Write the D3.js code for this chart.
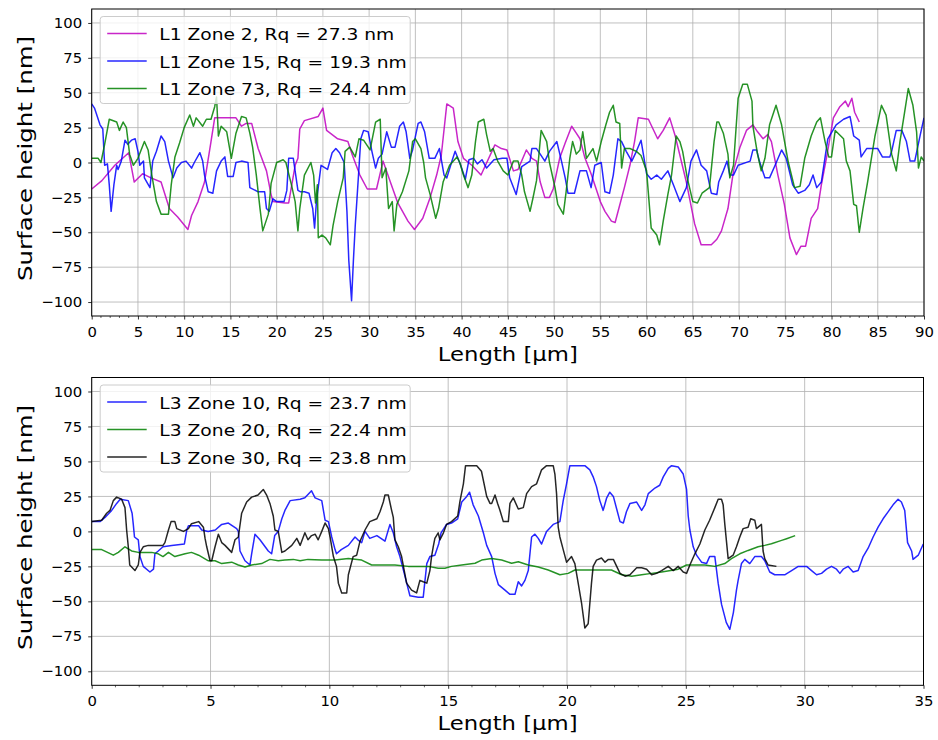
<!DOCTYPE html>
<html><head><meta charset="utf-8">
<script src="https://cdn.jsdelivr.net/npm/d3@7"></script>
<style>body{margin:0;background:#fff}svg{display:block;font-family:"DejaVu Sans",sans-serif}</style>
</head><body><svg id="c" width="938" height="740"></svg>
<script>
// ---------- DATA ----------
const topXTicks = [0,5,10,15,20,25,30,35,40,45,50,55,60,65,70,75,80,85,90];
const botXTicks = [0,5,10,15,20,25,30,35];
const yTicks = [-100,-75,-50,-25,0,25,50,75,100];

const l1z2_x = [0,1.1,2.5,4,4.6,5.5,6.4,7.5,8.4,9.3,10.4,10.8,11.5,12.2,12.9,13.3,15.6,16.2,16.7,17.3,18,18.9,19.4,19.6,20.9,21.3,22,22.3,22.5,23,24.5,25,25.4,26.6,27.7,28.2,29,29.8,30.8,31.5,32.4,33.1,34.2,34.9,35.8,36.6,37.3,37.8,38.4,39.1,39.6,40.2,41.1,42.1,43.6,44.3,44.9,45.6,46.1,47,47.6,48.1,48.5,49,49.5,49.9,50.6,51.2,51.9,52.4,52.8,53.3,54,55,55.5,56.2,56.6,57,57.6,58.2,58.7,59.1,60.2,61.2,61.8,62.5,63.1,64.3,65.2,65.9,67,67.6,68.1,68.8,69.4,70.1,70.8,71.5,72,72.6,73.1,73.5,74.2,74.9,75.5,76.2,76.7,77.2,77.8,78.5,78.9,79.5,80.2,80.9,81.5,81.8,82.2,82.5,83];
const l1z2_y = [-19,-13,-2,7,-14,-8,-11,-14,-33,-39,-48,-38,-28,-14,15,32,32,26,28,28,10,-6,-23,-28,-29,-29,-2,3,24,30,33,39,23,17,15,5,-9,-19,-19,1,-16,-29,-42,-48,-40,-25,-9,5,42,39,15,3,-2,-9,12.6,10,9,-6,-5,9,3,1,-14,-25,-25,-19,3,14,26,21,17,4,-8,-28,-35,-42,-43,-33,-18,-2,15,32,31,17,23,32,19,-14,-44,-59,-59,-55,-49,-33,-6,11,23,27,22,17,20,15,-9,-30,-54,-66,-60,-60,-40,-33,-16,5,32,40,44,40,46,36,29];

const l1z15_x = [0,0.3,0.9,1.2,1.4,1.7,1.9,2.1,2.4,2.7,2.85,3.2,3.6,3.9,4.3,4.7,5,5.2,5.6,5.7,6.3,6.6,7,7.5,7.9,8.3,8.8,9.2,9.7,10.2,10.8,11.1,11.7,12,12.2,12.6,13.1,13.5,14,14.4,14.7,15.3,15.6,16.2,16.9,17.1,18,18.7,18.9,19.2,19.6,20,20.5,20.8,21.1,21.3,21.8,22.3,22.6,23,23.5,23.9,24.1,24.3,24.8,25.5,26,26.4,26.8,27.3,27.6,27.8,28.1,28.3,28.5,28.9,29.1,29.4,29.9,30.3,30.7,31,31.4,31.9,32.4,32.8,33.3,33.7,34,34.4,34.7,35.3,35.6,36,36.5,37.1,37.6,38.1,38.4,39,39.3,39.9,40.4,40.8,41.3,41.7,42.2,42.7,43.5,44.4,44.9,45.2,45.9,46.5,47.4,47.6,48.1,48.5,49,49.5,50.3,50.8,51.2,51.5,52.2,52.8,53.5,54,54.4,55.1,55.5,56,56.4,56.9,57.3,57.8,58.4,58.9,59.4,60,60.5,61.1,61.6,62.3,62.9,63.6,64.3,64.8,65.4,65.9,66.5,67,67.6,67.8,68.3,68.7,69,69.4,69.9,71.2,71.5,71.9,72.2,72.8,73.3,73.9,74.6,75.1,75.8,76.4,77.1,77.6,78,78.4,78.9,79.6,80.5,81.3,82,82.4,83,83.2,83.8,85,85.5,86.3,86.5,87,87.6,88.1,88.5,89,89.6,90];
const l1z15_y = [42,39,27,24,-2,-1,-16,-35,-16,-2,-5,1,16,13,16,17,8,-2,1,-11,-18,1,8,19,15,1,-11,-4,0,1,-4,0,7,1,-9,-21,-22,-6,1,4,-10,-10,0,1,0,-18,-21,-21,-33,-35,-26,-28,-28,-28,-20,3,3,-20,-21,-21,-22,-33,-47,-28,-2,-5,7,10,7,0,-35,-70,-99,-70,-45,-4,17,23,22,8,-4,3,6,22,11,11,26,29,22,3,9,28,29,22,3,3,10,-9,-11,2,8,-2,-12,2,3,-1,2,-4,2,3,3,-11,-23,-3,1,10,10,6,1,8,15,1,-11,-22,-22,-6,-6,-18,-2,0,-21,-22,-9,17,15,8,1,8,16,-8,-12,-9,-12,-6,-16,-28,-18,1,9,-2,-6,-22,-23,-14,-6,1,-9,-9,-2,1,9,9,1,-11,-11,-2,9,3,-16,-22,-20,-16,-9,-18,-14,17,27,31,33,19,16,4,10,10,4,4,8,23,23,15,1,1,20,32];

const l1z73_x = [0,0.7,1,1.4,1.9,2.7,3,3.4,3.75,4.1,4.5,5,5.7,6.1,6.5,7,7.5,8.3,8.6,9,9.5,10,10.6,11,11.3,12,12.4,12.9,13.3,13.5,13.7,14,14.6,15.1,15.6,16.2,16.7,17.1,17.4,17.8,18.2,18.5,19.1,19.4,20,20.7,21,21.6,22,22.3,22.5,23,23.7,24,24.2,24.4,24.5,24.9,25.3,25.8,26.1,26.6,27.2,27.4,27.9,28.5,28.9,29.4,30.1,30.7,31.2,31.4,31.8,32.1,32.5,32.7,33,33.6,34.3,34.7,35,35.6,35.9,36.1,36.6,37.2,37.5,38,38.7,39.5,39.8,40.2,40.7,41.1,41.5,41.8,42.4,42.7,43.1,43.4,43.9,44.5,45,45.6,46.1,46.5,46.8,47.4,47.7,48.1,48.6,49.2,49.5,50.1,50.4,51,51.3,51.7,52,52.4,52.8,53.1,53.5,54.2,54.6,55.1,55.6,56,56.4,56.7,57.1,57.3,57.6,58.2,58.9,59.4,60,60.5,61.1,61.4,61.8,62.3,62.7,63.2,63.6,63.9,64.4,65,65.5,66,66.8,67.3,67.6,67.8,68.3,68.8,69,69.4,69.9,70.4,70.9,71.4,71.5,72,72.4,72.8,73.3,74,74.6,75.3,76,76.6,77.1,77.8,78.4,78.8,79.3,79.7,80,80.4,81.3,81.6,82,82.4,82.7,83,83.4,83.9,84.7,85.4,85.9,86.5,87,87.4,87.9,88.3,88.8,89.2,89.4,89.7,90];
const l1z73_y = [3,3,0,13,31,29,23,29,25,6,-2,3,15,9,-9,-28,-37,-37,-16,4,14,25,34,26,32,26,31,31,40,47,19,26,22,3,21,33,32,21,11,-9,-33,-49,-37,-15,0,2,0,-16,-28,-49,-33,-9,0,-9,-29,-16,-54,-52,-54,-59,-45,-28,-11,8,11,4,17,16,9,29,31,-11,-4,-33,-28,-49,-30,-21,-6,15,17,10,0,-11,-23,-40,-33,-14,-2,4,0,-9,-18,-9,15,29,31,20,8,10,1,-6,-9,1,1,-9,-21,-35,-26,-13,23,15,0,-18,-30,-37,-21,3,15,6,9,22,3,10,1,15,27,36,41,29,28,-4,10,10,8,5,-6,-47,-52,-59,-42,-23,-9,19,15,8,-11,-28,-29,-22,-18,15,29,29,21,6,-11,-2,46,56,56,44,26,6,-6,3,27,41,27,1,-18,-17,3,19,29,32,15,4,4,23,17,1,-6,-30,-31,-50,-33,-14,19,41,34,6,-6,15,36,53,41,22,-4,4,1];

const l3z10_x = [0,0.35,0.56,0.84,1.05,1.2,1.54,1.7,1.75,1.8,1.96,2.03,2.17,2.45,2.6,2.66,2.8,3,3.37,3.9,4,4.07,4.5,4.63,4.9,5.2,5.47,5.75,6.1,6.17,6.24,6.45,6.66,6.73,6.87,7.08,7.43,7.57,7.7,7.85,8,8.13,8.35,8.77,8.97,9.25,9.4,9.68,9.82,9.96,10.1,10.24,10.3,10.5,10.8,11.08,11.2,11.36,11.5,11.7,12,12.34,12.55,12.69,12.83,12.97,13.18,13.39,13.74,13.95,14.1,14.23,14.44,14.6,14.7,14.93,15.14,15.4,15.57,15.78,15.9,16.05,16.27,16.48,16.62,16.83,16.97,17.11,17.39,17.6,17.81,17.95,18.09,18.23,18.37,18.51,18.65,18.79,18.93,19.14,19.42,19.7,19.84,19.98,20.12,20.75,20.96,21.1,21.24,21.38,21.52,21.67,21.8,21.95,22.09,22.23,22.37,22.5,22.65,22.93,23.14,23.28,23.42,23.7,23.9,24.05,24.26,24.4,24.68,24.89,25.03,25.1,25.17,25.31,25.45,25.66,25.87,26,26.22,26.36,26.5,26.7,26.85,27,27.13,27.2,27.34,27.48,27.69,27.9,28.18,28.32,28.53,28.74,29.16,29.45,29.73,30.08,30.29,30.5,30.71,30.92,31.13,31.34,31.48,31.62,31.83,32.04,32.25,32.46,32.67,32.88,33.09,33.3,33.51,33.72,33.93,34.07,34.21,34.33,34.5,34.56,34.78,34.99];
const l3z10_y = [7,7,10,15,20,23,22,13,5,-4,-6,-18,-25,-29,-27,-16,-14,-11,-10,-9,1,4,4,1,0,1,5,6,2,0,-14,-21,-24,-16,-2,-6,-14,-16,-3,0,9,15,22,23,24,29,24,22,8,7,-4,-13,-16,-13,-10,-4,-6,-8,0,-5,-3,-7,5,-1,-11,-18,-32,-46,-47,-47,-23,-18,-17,-9,-1,5,6,9,21,25,28,19,11,-1,-10,-18,-30,-38,-42,-45,-45,-36,-39,-35,-28,-4,-2,-5,-9,0,5,7,22,34,47,47,44,39,32,22,15,24,28,25,16,7,6,14,20,21,15,19,27,31,33,39,45,47,46,41,30,11,1,-11,-17,-22,-23,-18,-18,-37,-52,-65,-70,-58,-42,-35,-23,-20,-23,-18,-18,-21,-29,-31,-31,-28,-25,-25,-28,-31,-30,-27,-25,-27,-30,-27,-25,-29,-28,-18,-12,-4,3,9,14,19,23,21,15,-8,-14,-20,-17,-9];

const l3z20_x = [0,0.42,0.91,1.12,1.4,1.68,1.96,2.52,2.8,3,3.23,3.5,3.93,4.2,4.5,4.91,5.19,5.47,5.89,6.17,6.45,6.73,7.15,7.5,7.85,8.13,8.48,8.77,9.1,9.68,10.24,10.8,11.36,11.78,12.2,12.76,13.32,13.74,14.16,14.58,14.86,15.14,15.57,16.13,16.41,16.83,17.25,17.67,17.95,18.37,18.79,19.21,19.7,20.05,20.33,21.03,21.87,22.3,22.72,23.14,23.56,23.98,24.68,25.03,25.38,25.8,26.22,26.64,26.92,27.27,27.62,28.04,28.32,28.6,29.03,29.24,29.6];
const l3z20_y = [-13,-13,-17,-15,-11,-14,-15,-15,-16,-18,-15,-18,-16,-15,-17,-21,-21,-23,-22,-24,-25.5,-24,-23,-20,-21,-20.5,-20,-21,-20,-20.5,-20.5,-19.3,-20.5,-24,-24,-24,-25,-25,-25,-26.4,-26.4,-25,-24,-22.8,-20.5,-19.3,-20.5,-22.8,-21.7,-24,-25.5,-27.6,-31,-30,-27.6,-27.6,-27.6,-31,-32,-31,-30,-29,-27,-24,-24,-24,-25,-23,-19.5,-16,-13.6,-11,-10,-8.8,-6.4,-5.2,-3];

const l3z30_x = [0,0.42,0.63,0.77,0.91,1.05,1.26,1.4,1.47,1.54,1.6,1.82,1.96,2.03,2.17,2.38,3,3.08,3.23,3.34,3.5,3.58,3.86,4.07,4.2,4.5,4.7,4.77,4.84,4.98,5.05,5.19,5.33,5.47,5.61,5.89,6.03,6.17,6.31,6.52,6.73,7,7.22,7.36,7.5,7.64,7.71,7.85,8,8.13,8.42,8.63,8.77,8.97,9.1,9.25,9.4,9.53,9.68,9.82,9.96,10.03,10.17,10.3,10.38,10.52,10.73,10.8,11,11.15,11.29,11.5,11.7,12,12.13,12.27,12.34,12.48,12.62,12.69,12.76,12.9,13.04,13.25,13.46,13.67,13.81,13.95,14.1,14.23,14.3,14.37,14.44,14.58,14.65,14.8,14.93,15.14,15.4,15.5,15.64,15.73,16.2,16.4,16.62,16.76,16.83,16.97,17.08,17.18,17.32,17.53,17.6,17.74,17.95,18.16,18.3,18.51,18.72,18.93,19.14,19.42,19.49,19.56,19.63,19.7,19.84,19.98,20.19,20.33,20.47,20.61,20.75,20.89,21.03,21.1,21.24,21.45,21.6,21.74,21.95,22.09,22.23,22.44,22.65,22.93,23.14,23.35,23.56,23.77,23.98,24.26,24.47,24.68,24.89,25.03,25.17,25.38,25.59,25.8,26,26.22,26.36,26.5,26.57,26.64,26.78,26.99,27.13,27.27,27.41,27.62,27.73,27.9,27.97,28.18,28.25,28.32,28.46,28.81];
const l3z30_y = [7,8,13,15,22,24.5,23,17,1,-11,-24,-28,-24,-15,-11,-10,-10,-8,1,7,7,2,0,2,5.5,7,3,-5,-11,-21,-21,-11,-2,-8,-10,-15,-6,-4,13,21,24.5,26,30,26,20,11,1,0,-15,-14,-10,-5,-10,-1,-6,-3,-2,-6,0,6,2,-4,-18,-25,-37,-44,-44,-31,-18,-17,-7,1,7,9,14,21,26,26,15,10,-6,-11,-18,-37,-42,-44,-35,-36,-37,-28,-18,-11,-5,-1,-6,-1,5,7,11,22,34,47,47,43,25,20,20,26,20,15,7,7,20,24,16,17,27,32,34,44,47,47,41,27,3,-4,-13,-22,-18,-23,-37,-51,-69,-66,-37,-25,-20.5,-19,-22,-20,-20,-25,-30,-32,-31,-26,-26,-27,-31,-30,-28,-25,-28,-25,-29,-30,-24,-16,-9,1,8,17,23,23,19,5,-19.5,-17,-11,-4,2,3,9,8,2,5,-14,-19.5,-24,-25];

const topSeries = [
  {name:"L1 Zone 2, Rq = 27.3 nm", x:l1z2_x, y:l1z2_y, color:"#bf00bf"},
  {name:"L1 Zone 15, Rq = 19.3 nm", x:l1z15_x, y:l1z15_y, color:"#0000ff"},
  {name:"L1 Zone 73, Rq = 24.4 nm", x:l1z73_x, y:l1z73_y, color:"#008000"}
];
const botSeries = [
  {name:"L3 Zone 10, Rq = 23.7 nm", x:l3z10_x, y:l3z10_y, color:"#0000ff"},
  {name:"L3 Zone 20, Rq = 22.4 nm", x:l3z20_x, y:l3z20_y, color:"#008000"},
  {name:"L3 Zone 30, Rq = 23.8 nm", x:l3z30_x, y:l3z30_y, color:"#000000"}
];

// ---------- DRAW ----------
const svg = d3.select("#c");

// stretch a text horizontally (along its direction) to a measured width
function fit(sel, w){
  sel.each(function(){
    const n = this.getComputedTextLength();
    if (n > 0) d3.select(this).attr("textLength", w).attr("lengthAdjust","spacingAndGlyphs");
  });
}

function panel(cfg){
  const {left,right,top,bottom,xmax,xTicks,series} = cfg;
  const x = d3.scaleLinear().domain([0,xmax]).range([left,right]);
  const y = d3.scaleLinear().domain([-110,110]).range([bottom,top]);
  const g = svg.append("g");
  g.append("g").selectAll("line").data(xTicks).join("line")
    .attr("x1",d=>x(d)).attr("x2",d=>x(d)).attr("y1",top).attr("y2",bottom)
    .attr("stroke","#b0b0b0").attr("stroke-width",0.8);
  g.append("g").selectAll("line").data(yTicks).join("line")
    .attr("x1",left).attr("x2",right).attr("y1",d=>y(d)).attr("y2",d=>y(d))
    .attr("stroke","#b0b0b0").attr("stroke-width",0.8);
  const cid = "clip"+Math.round(top);
  svg.append("defs").append("clipPath").attr("id",cid).append("rect")
    .attr("x",left).attr("y",top).attr("width",right-left).attr("height",bottom-top);
  const line = d3.line().x(d=>x(d[0])).y(d=>y(d[1]));
  const lg = g.append("g").attr("clip-path",`url(#${cid})`);
  series.forEach(s=>{
    lg.append("path").datum(s.x.map((v,i)=>[v,s.y[i]]))
      .attr("d",line).attr("fill","none").attr("stroke",s.color)
      .attr("stroke-width",1.5).attr("stroke-opacity",0.85).attr("stroke-linejoin","round");
  });
  const minor = d3.range(0,xmax+0.001,1).filter(v=>v%5!==0);
  g.append("g").selectAll("line").data(minor).join("line")
    .attr("x1",d=>x(d)).attr("x2",d=>x(d)).attr("y1",bottom).attr("y2",bottom+2)
    .attr("stroke","#000").attr("stroke-width",0.6);
  const xa = g.append("g").attr("transform",`translate(0,${bottom})`)
    .call(d3.axisBottom(x).tickValues(xTicks).tickSize(3.5).tickPadding(7).tickFormat(d3.format("d")));
  const ya = g.append("g").attr("transform",`translate(${left},0)`)
    .call(d3.axisLeft(y).tickValues(yTicks).tickSize(3.5).tickPadding(6).tickFormat(d=>d<0?"\u2212"+Math.abs(d):d));
  [xa,ya].forEach(a=>{
    a.select(".domain").remove();
    a.selectAll("text").attr("font-size",14.5).attr("font-family","DejaVu Sans").attr("fill","#000");
    a.selectAll("line").attr("stroke","#000").attr("stroke-width",0.8);
  });
  ya.selectAll("text").each(function(d){ fit(d3.select(this), (String(Math.abs(d)).length*9.45) + (d<0?12.5:0)); });
  xa.selectAll("text").each(function(d){ fit(d3.select(this), String(d).length*9.45); });
  g.append("rect").attr("x",left).attr("y",top).attr("width",right-left).attr("height",bottom-top)
    .attr("fill","none").attr("stroke","#000").attr("stroke-width",1);
  const t1 = g.append("text").attr("x",(left+right)/2).attr("y",bottom+45).attr("text-anchor","middle")
    .attr("font-size",20).text("Length [\u00b5m]");
  fit(t1,140);
  const t2 = g.append("text").attr("transform",`translate(32,${(top+bottom)/2-4}) rotate(-90)`)
    .attr("text-anchor","middle").attr("font-size",20).text("Surface height [nm]");
  fit(t2,245);
  const L = g.append("g");
  L.append("rect").attr("x",left+8.5).attr("y",top+7.5).attr("width",310).attr("height",87)
    .attr("rx",3).attr("fill","#fff").attr("fill-opacity",0.8).attr("stroke","#cccccc").attr("stroke-width",1);
  series.forEach((s,i)=>{
    const yy = top+24.5+i*27.5;
    L.append("line").attr("x1",left+15.5).attr("x2",left+55).attr("y1",yy).attr("y2",yy)
      .attr("stroke",s.color).attr("stroke-width",1.5).attr("stroke-opacity",0.85);
    const t = L.append("text").attr("x",left+67.6).attr("y",yy+6.5).attr("font-size",16.5).text(s.name);
    fit(t, s.name.includes(" 2,") ? 235 : 247.5);
  });
}

panel({left:91.7,right:924,top:9,bottom:316,xmax:90,xTicks:topXTicks,series:topSeries});
panel({left:91.7,right:923.5,top:377.5,bottom:685.3,xmax:35,xTicks:botXTicks,series:botSeries});
</script></body></html>
